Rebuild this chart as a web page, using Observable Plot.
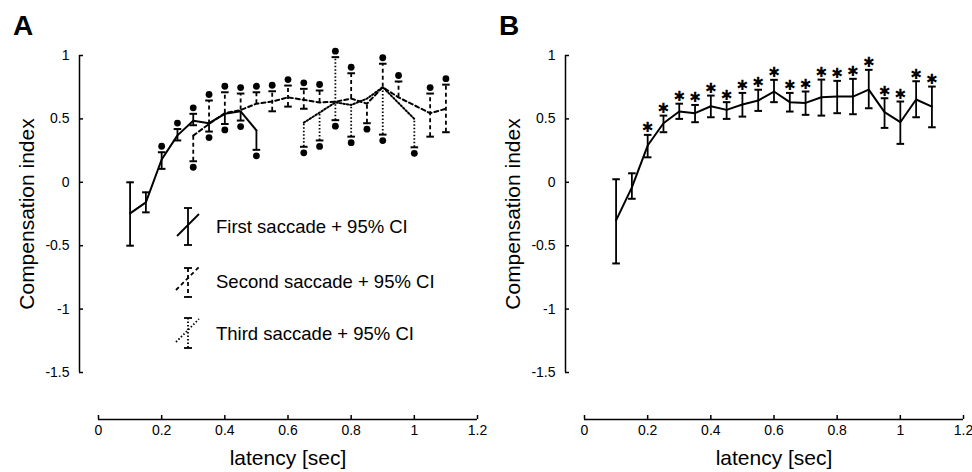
<!DOCTYPE html>
<html><head><meta charset="utf-8">
<script src="https://cdn.jsdelivr.net/npm/d3@7"></script>
<script src="https://cdn.jsdelivr.net/npm/@observablehq/plot@0.6"></script>
<style>
body{margin:0;background:#fff;}
#wrap{position:relative;width:972px;height:472px;font-family:"Liberation Sans",Arial,sans-serif;background:#fff;}
.panel{position:absolute;top:0;}
#overlay{position:absolute;left:0;top:0;pointer-events:none;}
</style></head><body>
<div id="wrap">
<div class="panel" id="pa" style="left:0"></div>
<div class="panel" id="pb" style="left:486px"></div>
<svg id="overlay" width="972" height="472" font-family="Liberation Sans, Arial, sans-serif">
  <text x="13" y="35" font-size="28" font-weight="bold">A</text>
  <text x="499" y="35" font-size="28" font-weight="bold">B</text>
  <g stroke="#000" stroke-width="1.8" fill="none">
    <line x1="188" y1="208" x2="188" y2="245"/>
    <line x1="184" y1="208" x2="192" y2="208"/><line x1="184" y1="245" x2="192" y2="245"/>
    <line x1="177" y1="236" x2="199" y2="214"/>
    <line x1="188" y1="268" x2="188" y2="297" stroke-dasharray="4,3"/>
    <line x1="184" y1="268" x2="192" y2="268"/><line x1="184" y1="297" x2="192" y2="297"/>
    <line x1="176" y1="290" x2="199" y2="267" stroke-dasharray="4,3"/>
    <line x1="188" y1="318" x2="188" y2="348" stroke-dasharray="1.5,2"/>
    <line x1="184" y1="318" x2="192" y2="318"/><line x1="184" y1="348" x2="192" y2="348"/>
    <line x1="176" y1="342" x2="199" y2="319" stroke-dasharray="1.5,2"/>
  </g>
  <g font-size="18.5" fill="#000">
    <text x="216" y="233">First saccade + 95% CI</text>
    <text x="216" y="288">Second saccade + 95% CI</text>
    <text x="216" y="340">Third saccade + 95% CI</text>
  </g>
</svg>
</div>
<script>
const xTicks = [0, 0.2, 0.4, 0.6, 0.8, 1, 1.2];
const yTicks = [-1.5, -1, -0.5, 0, 0.5, 1];

// Panel A – first saccade
const firstLatency = [0.1, 0.15, 0.2, 0.25, 0.3, 0.35, 0.4, 0.45, 0.5];
const firstMean = [-0.245, -0.158, 0.18, 0.37, 0.486, 0.466, 0.54, 0.56, 0.41];
const firstLow = [-0.5, -0.237, 0.106, 0.33, 0.45, 0.40, 0.46, 0.487, 0.256];
const firstHigh = [0.0, -0.079, 0.237, 0.42, 0.54, null, null, null, null];
const firstMark = ["", "", "above", "above", "above", "below", "below", "below", "below"];

// Panel A – second saccade
const secondLatency = [0.3, 0.35, 0.4, 0.45, 0.5, 0.55, 0.6, 0.65, 0.7, 0.75, 0.8, 0.85, 0.9, 0.95, 1.05, 1.1];
const secondMean = [0.368, 0.46, 0.545, 0.57, 0.62, 0.637, 0.67, 0.65, 0.63, 0.635, 0.66, 0.62, 0.75, 0.67, 0.545, 0.58];
const secondLow = [0.166, null, null, null, null, 0.56, 0.597, 0.58, null, null, null, 0.466, null, null, 0.36, 0.395];
const secondHigh = [null, 0.645, 0.71, 0.70, 0.71, 0.718, 0.763, 0.737, 0.724, null, 0.86, null, 0.935, 0.795, 0.70, 0.77];
const secondMark = ["below", "above", "above", "above", "above", "above", "above", "above", "above", "", "above", "below", "above", "above", "above", "above"];

// Panel A – third saccade
const thirdLatency = [0.65, 0.7, 0.75, 0.8, 0.85, 0.9, 1.0];
const thirdMean = [0.47, 0.55, 0.63, 0.61, 0.66, 0.75, 0.5];
const thirdLow = [0.28, 0.33, 0.49, 0.36, null, 0.376, 0.276];
const thirdHigh = [null, null, 0.987, null, null, null, null];
const thirdMark = ["below", "below", "both", "below", "", "below", "below"];

// Panel B – all saccades
const bLatency = [0.1, 0.15, 0.2, 0.25, 0.3, 0.35, 0.4, 0.45, 0.5, 0.55, 0.6, 0.65, 0.7, 0.75, 0.8, 0.85, 0.9, 0.95, 1.0, 1.05, 1.1];
const bMean = [-0.30, -0.04, 0.29, 0.466, 0.558, 0.545, 0.60, 0.571, 0.613, 0.645, 0.716, 0.632, 0.626, 0.671, 0.676, 0.676, 0.731, 0.553, 0.474, 0.653, 0.597];
const bLow = [-0.64, -0.13, 0.197, 0.395, 0.50, 0.474, 0.513, 0.50, 0.518, 0.563, 0.632, 0.558, 0.532, 0.526, 0.545, 0.537, 0.584, 0.429, 0.303, 0.513, 0.434];
const bHigh = [0.024, 0.071, 0.374, 0.526, 0.62, 0.61, 0.684, 0.632, 0.705, 0.73, 0.808, 0.705, 0.716, 0.81, 0.80, 0.816, 0.887, 0.663, 0.637, 0.797, 0.755];
const bStar = [false, false, true, true, true, true, true, true, true, true, true, true, true, true, true, true, true, true, true, true, true];

const build = (xs, m, lo, hi, mk) => xs.map((x, i) => ({x, mean: m[i], lo: lo[i], hi: hi[i], mark: mk[i]}));
const first = build(firstLatency, firstMean, firstLow, firstHigh, firstMark);
const second = build(secondLatency, secondMean, secondLow, secondHigh, secondMark);
const third = build(thirdLatency, thirdMean, thirdLow, thirdHigh, thirdMark);
const bData = build(bLatency, bMean, bLow, bHigh, bStar);

const capSymbol = {draw(ctx, size) { const r = Math.sqrt(size / Math.PI); ctx.moveTo(-r, 0); ctx.lineTo(r, 0); }};

function seriesMarks(data, dash) {
  return [
    Plot.ruleX(data, {x: "x", y1: d => d.lo ?? d.mean, y2: d => d.hi ?? d.mean, stroke: "#000", strokeWidth: 1.8, strokeDasharray: dash}),
    Plot.dot(data.filter(d => d.hi != null), {x: "x", y: "hi", symbol: capSymbol, r: 3.8, stroke: "#000", strokeWidth: 2, fill: "none"}),
    Plot.dot(data.filter(d => d.lo != null), {x: "x", y: "lo", symbol: capSymbol, r: 3.8, stroke: "#000", strokeWidth: 2, fill: "none"}),
    Plot.line(data, {x: "x", y: "mean", stroke: "#000", strokeWidth: 2, strokeDasharray: dash}),
    Plot.dot(data.filter(d => d.mark === "above" || d.mark === "both"), {x: "x", y: "hi", dy: -6, r: 3.4, fill: "#000", stroke: "none"}),
    Plot.dot(data.filter(d => d.mark === "below" || d.mark === "both"), {x: "x", y: "lo", dy: 6, r: 3.4, fill: "#000", stroke: "none"})
  ];
}

function frameMarks() {
  return [
    Plot.ruleX([0], {y1: -1.5, y2: 1, dx: -19, stroke: "#000", strokeWidth: 1.5}),
    Plot.ruleY([-1.5], {x1: 0, x2: 1.2, dy: 47, stroke: "#000", strokeWidth: 1.5}),
    Plot.axisY(yTicks, {anchor: "left", tickSize: -4, tickPadding: 14, dx: -19, tickFormat: d => String(d), fontSize: 14, label: null, strokeWidth: 1.5}),
    Plot.axisX(xTicks, {anchor: "bottom", tickSize: -4, tickPadding: 10, dy: 47, tickFormat: d => String(d), fontSize: 14, label: null, strokeWidth: 1.5}),
    Plot.text(["Compensation index"], {text: d => d, frameAnchor: "left", textAnchor: "middle", rotate: -90, dx: -65, lineAnchor: "bottom", fontSize: 21}),
    Plot.text(["latency [sec]"], {text: d => d, frameAnchor: "bottom", textAnchor: "middle", dy: 92, lineAnchor: "bottom", fontSize: 21})
  ];
}

const common = {
  width: 486, height: 472,
  marginLeft: 98, marginRight: 9, marginTop: 55, marginBottom: 100,
  x: {domain: [0, 1.2]},
  y: {domain: [-1.5, 1]},
  style: {fontFamily: "Liberation Sans, Arial, sans-serif", fontSize: "14px", background: "transparent", color: "#000", overflow: "visible"}
};

const chartA = Plot.plot({
  ...common,
  marks: [
    ...frameMarks(),
    ...seriesMarks(third, "1.5,2"),
    ...seriesMarks(second, "4,3"),
    ...seriesMarks(first, null)
  ]
});
document.getElementById("pa").appendChild(chartA);

const chartB = Plot.plot({
  ...common,
  marks: [
    ...frameMarks(),
    Plot.ruleX(bData, {x: "x", y1: "lo", y2: "hi", stroke: "#000", strokeWidth: 1.8}),
    Plot.dot(bData, {x: "x", y: "hi", symbol: capSymbol, r: 3.8, stroke: "#000", strokeWidth: 2}),
    Plot.dot(bData, {x: "x", y: "lo", symbol: capSymbol, r: 3.8, stroke: "#000", strokeWidth: 2}),
    Plot.line(bData, {x: "x", y: "mean", stroke: "#000", strokeWidth: 2}),
    Plot.text(bData.filter(d => d.mark), {x: "x", y: "hi", dy: -7, text: () => "✱", fontSize: 14, fontFamily: "DejaVu Sans", fill: "#000"})
  ]
});
document.getElementById("pb").appendChild(chartB);
</script>
</body></html>
